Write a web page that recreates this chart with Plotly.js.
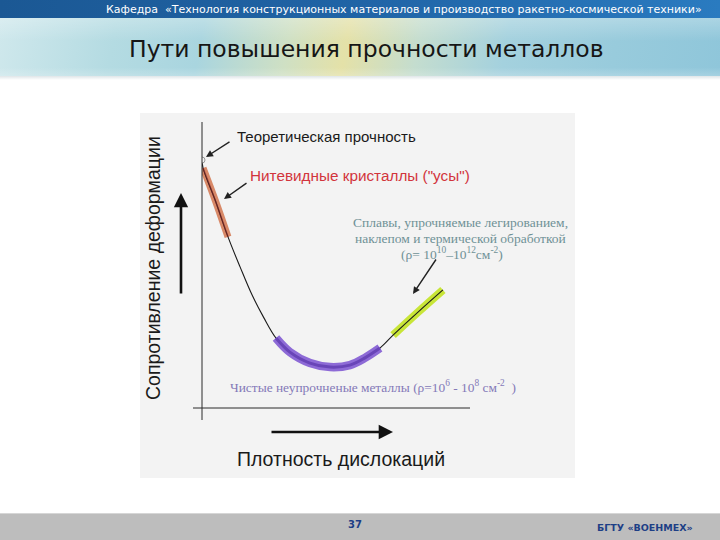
<!DOCTYPE html>
<html>
<head>
<meta charset="utf-8">
<script src="https://cdn.plot.ly/plotly-3.0.1.min.js"></script>
<style>
  html, body { margin:0; padding:0; background:#ffffff; }
  #wrap { position:relative; width:720px; height:540px; overflow:hidden; }
  #topbar { position:absolute; left:0; top:0; width:720px; height:18px;
    background: linear-gradient(to right, #1b5894 0%, #2064a6 50%, #2a7bc0 100%); }
  #band { position:absolute; left:0; top:18px; width:720px; height:58px;
    background:
      linear-gradient(to bottom, rgba(255,255,255,0.25) 0%, rgba(255,255,255,0) 40%, rgba(255,255,255,0) 85%, rgba(255,255,255,0.2) 100%),
      linear-gradient(100deg, #cfe8ec 0%, #b4dbe2 16%, #a9d5df 28%, #cfe0c4 40%, #e4e1a8 48%, #c4ddcf 58%, #a4d1de 70%, #98cbdc 85%, #8fc6da 100%); }
  #shadow { position:absolute; left:0; top:76px; width:720px; height:4px;
    background: linear-gradient(to bottom, #dfe5e8, #ffffff); }
  #foot { position:absolute; left:0; top:513px; width:720px; height:27px;
    background:#bdbdbd; border-top:1px solid #d6d6d6; }
  #plot { position:absolute; left:0; top:0; width:720px; height:540px; }
</style>
</head>
<body>
<div id="wrap">
  <div id="topbar"></div>
  <div id="band"></div>
  <div id="shadow"></div>
  <div id="foot"></div>
  <div id="plot"></div>
</div>
<script>
// ---- data (arbitrary units: dislocation density vs. resistance to deformation) ----
const curveX = [0.0, 0.4, 4.9, 9.7, 14.2, 18.7, 23.1, 27.6, 32.8, 40.3, 47.8, 55.2, 60.8, 66.4, 71.3, 80.6, 89.9];
const curveY = [86.1, 83.3, 72.2, 59.4, 49.0, 39.2, 31.3, 24.3, 19.4, 15.6, 14.2, 14.9, 17.4, 20.8, 25.3, 33.3, 41.0];
const whiskersRange = [1, 3];     // индексы: нитевидные кристаллы
const pureRange = [7, 13];        // индексы: чистые металлы
const alloysRange = [14, 16];     // индексы: сплавы
const theoreticalPoint = [0.0, 86.1];

const headerText = 'Кафедра  «Технология конструкционных материалов и производство ракетно-космической техники»';
const titleText = 'Пути повышения прочности металлов';
const yLabel = 'Сопротивление деформации';
const xLabel = 'Плотность дислокаций';
const labelTheory = 'Теоретическая прочность';
const labelWhiskers = 'Нитевидные кристаллы ("усы")';
const labelAlloys = ['Сплавы, упрочняемые легированием,', 'наклепом и термической обработкой', '(ρ= 10<sup>10</sup>–10<sup>12</sup>см<sup>-2</sup>)'];
const labelPure = 'Чистые неупрочненые металлы (ρ=10<sup>6</sup> - 10<sup>8</sup> см<sup>-2</sup>  )';
const pageNum = '37';
const orgText = 'БГТУ «ВОЕНМЕХ»';

function seg(r) { return { x: curveX.slice(r[0], r[1] + 1), y: curveY.slice(r[0], r[1] + 1) }; }
const W = 720, H = 540;
const px = v => v / W;
const py = v => (H - v) / H;

const wS = seg(whiskersRange), pS = seg(pureRange), aS = seg(alloysRange);

const traces = [
  { x: wS.x, y: wS.y, mode: 'lines', line: { color: 'rgba(212,122,84,0.88)', width: 7, shape: 'spline' }, hoverinfo: 'skip' },
  { x: aS.x, y: aS.y, mode: 'lines', line: { color: 'rgba(196,228,40,0.92)', width: 8, shape: 'spline' }, hoverinfo: 'skip' },
  { x: curveX, y: curveY, mode: 'lines', line: { color: '#1a1a1a', width: 1.1, shape: 'spline', smoothing: 1 }, hoverinfo: 'skip' },
  { x: wS.x, y: wS.y, mode: 'lines', line: { color: 'rgba(150,40,40,0.55)', width: 1.5, shape: 'spline' }, hoverinfo: 'skip' },
  { x: pS.x, y: pS.y, mode: 'lines', line: { color: '#8d6ad6', width: 8.5, shape: 'spline' }, hoverinfo: 'skip' },
  { x: pS.x, y: pS.y, mode: 'lines', line: { color: '#6945b8', width: 3, shape: 'spline' }, hoverinfo: 'skip' },
  { x: [theoreticalPoint[0]], y: [theoreticalPoint[1]], mode: 'markers',
    marker: { size: 6, color: '#f4f4f4', line: { color: '#999999', width: 1 } }, hoverinfo: 'skip' }
];

const shapes = [
  { type: 'rect', xref: 'paper', yref: 'paper', x0: px(140), x1: px(575), y0: py(478), y1: py(113),
    fillcolor: '#f3f3f3', line: { width: 0 }, layer: 'below' },
  { type: 'line', xref: 'paper', yref: 'paper', x0: px(202), x1: px(202), y0: py(122), y1: py(420),
    line: { color: '#2a2a2a', width: 1 } },
  { type: 'line', xref: 'paper', yref: 'paper', x0: px(193), x1: px(470), y0: py(408), y1: py(408),
    line: { color: '#2a2a2a', width: 1 } }
];

const sans = 'Liberation Sans, Arial, sans-serif';
const serif = 'Liberation Serif, Times New Roman, serif';

const annotations = [
  { text: headerText, xref: 'paper', yref: 'paper', x: px(104), y: py(9), xanchor: 'left', yanchor: 'middle',
    showarrow: false, font: { family: 'DejaVu Sans', size: 11, color: '#ffffff' } },
  { text: titleText, xref: 'paper', yref: 'paper', x: px(366), y: py(49), xanchor: 'center', yanchor: 'middle',
    showarrow: false, font: { family: 'DejaVu Sans', size: 23.5, color: '#161616' } },
  { text: pageNum, xref: 'paper', yref: 'paper', x: px(355), y: py(524), xanchor: 'center', yanchor: 'middle',
    showarrow: false, font: { family: 'DejaVu Sans', size: 10, color: '#1d3f86', weight: 'bold' } },
  { text: orgText, xref: 'paper', yref: 'paper', x: px(645), y: py(527), xanchor: 'center', yanchor: 'middle',
    showarrow: false, font: { family: 'DejaVu Sans', size: 9.5, color: '#1d3f86', weight: 'bold' } },

  { text: yLabel, xref: 'paper', yref: 'paper', x: px(153), y: py(268), xanchor: 'center', yanchor: 'middle',
    textangle: -90, showarrow: false, font: { family: sans, size: 19.5, color: '#1a1a1a' } },
  { text: xLabel, xref: 'paper', yref: 'paper', x: px(341), y: py(459), xanchor: 'center', yanchor: 'middle',
    showarrow: false, font: { family: sans, size: 19.5, color: '#1a1a1a' } },
  { text: labelTheory, xref: 'paper', yref: 'paper', x: px(235), y: py(137), xanchor: 'left', yanchor: 'middle',
    showarrow: false, font: { family: sans, size: 15, color: '#1a1a1a' } },
  { text: labelWhiskers, xref: 'paper', yref: 'paper', x: px(248), y: py(175), xanchor: 'left', yanchor: 'middle',
    showarrow: false, font: { family: sans, size: 15.3, color: '#d2343c' } },
  { text: labelAlloys[0], xref: 'paper', yref: 'paper', x: px(461), y: py(222), xanchor: 'center', yanchor: 'middle',
    showarrow: false, font: { family: serif, size: 13.5, color: '#6f9196' } },
  { text: labelAlloys[1], xref: 'paper', yref: 'paper', x: px(461), y: py(238), xanchor: 'center', yanchor: 'middle',
    showarrow: false, font: { family: serif, size: 13.5, color: '#6f9196' } },
  { text: labelAlloys[2], xref: 'paper', yref: 'paper', x: px(452), y: py(253), xanchor: 'center', yanchor: 'middle',
    showarrow: false, font: { family: serif, size: 13.5, color: '#6f9196' } },
  { text: labelPure, xref: 'paper', yref: 'paper', x: px(228), y: py(386), xanchor: 'left', yanchor: 'middle',
    showarrow: false, font: { family: serif, size: 13.4, color: '#8479b8' } },

  // pointer arrows
  { text: '', xref: 'paper', yref: 'paper', x: px(206), y: py(157), ax: 25, ay: -16, showarrow: true,
    arrowhead: 2, arrowsize: 1, arrowwidth: 1.4, arrowcolor: '#222222' },
  { text: '', xref: 'paper', yref: 'paper', x: px(224), y: py(199), ax: 24, ay: -17, showarrow: true,
    arrowhead: 2, arrowsize: 1, arrowwidth: 1.4, arrowcolor: '#222222' },
  { text: '', xref: 'paper', yref: 'paper', x: px(413), y: py(294), ax: 24, ay: -36, showarrow: true,
    arrowhead: 2, arrowsize: 1, arrowwidth: 1.4, arrowcolor: '#222222' },
  // direction arrows
  { text: '', xref: 'paper', yref: 'paper', x: px(181), y: py(193), ax: 0, ay: 102, showarrow: true,
    arrowhead: 2, arrowsize: 1.1, arrowwidth: 2.6, arrowcolor: '#111111' },
  { text: '', xref: 'paper', yref: 'paper', x: px(393), y: py(432), ax: -123, ay: 0, showarrow: true,
    arrowhead: 2, arrowsize: 1.1, arrowwidth: 2.6, arrowcolor: '#111111' }
];

const layout = {
  width: W, height: H,
  margin: { l: 0, r: 0, t: 0, b: 0 },
  paper_bgcolor: 'rgba(0,0,0,0)',
  plot_bgcolor: 'rgba(0,0,0,0)',
  showlegend: false,
  xaxis: { domain: [px(202), px(470)], range: [0, 100], visible: false, fixedrange: true },
  yaxis: { domain: [py(408), py(120)], range: [0, 100], visible: false, fixedrange: true },
  shapes: shapes,
  annotations: annotations
};

Plotly.newPlot('plot', traces, layout, { staticPlot: true, displayModeBar: false });
</script>
</body>
</html>
